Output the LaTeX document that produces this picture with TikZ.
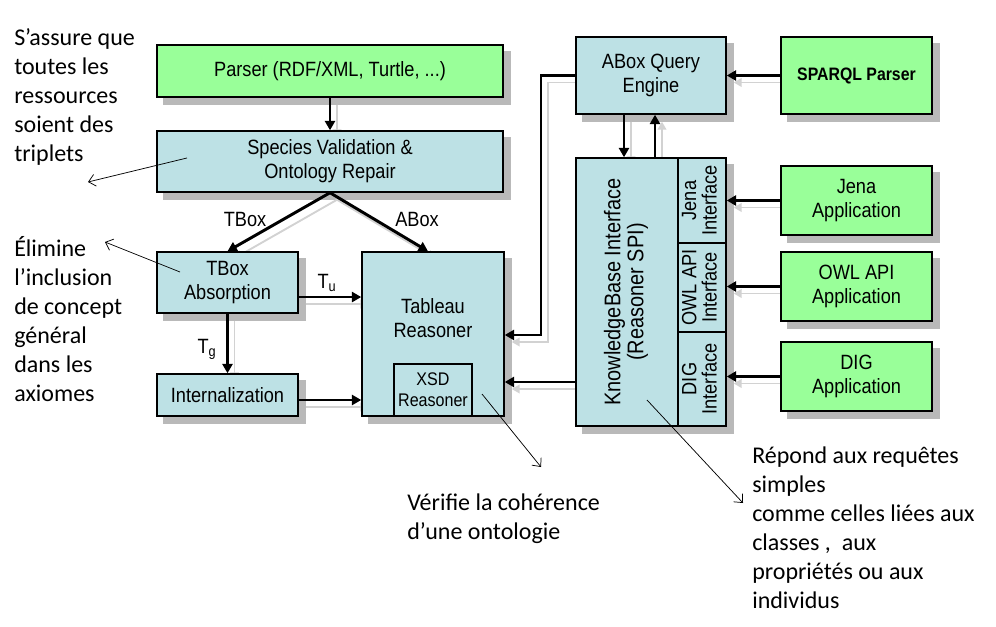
\documentclass[tikz,border=0pt]{standalone}
\usepackage{fontspec}
\usepackage{graphicx}
\setmainfont{Liberation Sans}
\newfontfamily\boxfont[FakeStretch=0.88]{Liberation Sans}
\newfontfamily\annofont{Carlito}
\usetikzlibrary{arrows.meta,calc}
\pgfdeclarelayer{paper}
\pgfdeclarelayer{boxsh}
\pgfdeclarelayer{arrsh}
\pgfsetlayers{paper,boxsh,arrsh,main}
\definecolor{boxgreen}{RGB}{153,255,153}
\definecolor{boxblue}{RGB}{189,225,229}
\tikzset{
  blk/.style={draw=black, line width=1.1pt, inner sep=0pt, align=center,
    font=\boxfont\fontsize{15.5}{18}\selectfont},
  gbox/.style={blk, fill=boxgreen},
  bbox/.style={blk, fill=boxblue},
  boxshadow/.style={fill=gray!55},
  conn/.style={line width=2.2pt, -{Triangle[length=7pt,width=7.5pt]}},
  connsh/.style={line width=1.4pt, draw=gray!35,
    -{Triangle[length=6pt,width=6.5pt]}},
  anno/.style={font=\annofont\fontsize{18}{21.75}\selectfont, align=left,
    inner sep=0pt, anchor=north west},
  annoarr/.style={line width=0.55pt, -{Straight Barb[length=5pt,width=9pt]}},
  lbl/.style={font=\boxfont\fontsize{15.5}{18}\selectfont, inner sep=0pt}
}
% box from its corners (pixel units): style, x1, y1, x2, y2, name
\newcommand\bx[6]{\node[#1, minimum width={(#4-#2)*0.75pt}, minimum height={(#5-#3)*0.75pt}] (#6) at ({(#2+#4)/2},{(#3+#5)/2})}
\newcommand\conn[1]{%
  \begin{pgfonlayer}{arrsh}
    \draw[connsh, transform canvas={shift={(5.25pt,-5.25pt)}}] #1;
  \end{pgfonlayer}
  \draw[conn] #1;}
\newcommand\vtext[1]{\rotatebox{90}{\begin{tabular}{@{}c@{}}#1\end{tabular}}}
\begin{document}
\begin{tikzpicture}[x=0.75pt, y=-0.75pt]
\begin{pgfonlayer}{paper}
  \fill[white] (0,0) rectangle (996,627);
\end{pgfonlayer}
\useasboundingbox (0,0) rectangle (996,627);

% left column
\bx{gbox}{157}{45}{503}{97}{parser} {Parser (RDF/XML, Turtle, ...)};
\bx{bbox}{157}{131}{503}{192}{species} {Species Validation \&\\Ontology Repair};
\bx{bbox}{157}{252}{298}{313}{tbox} {TBox\\Absorption};
\bx{bbox}{157}{374}{298}{416}{intern} {Internalization};
\bx{bbox, label={[lbl, align=center, yshift=11.6pt]center:Tableau\\Reasoner}}{362}{252}{504}{416}{tableau} {};
\bx{bbox, font=\boxfont\fontsize{13.7}{15.75}\selectfont}{394}{364}{472}{416}{xsd} {XSD\\Reasoner};

% right part
\bx{bbox}{576}{37}{726}{114}{qe} {ABox Query\\Engine};
\bx{gbox, font=\boxfont\bfseries\fontsize{13.5}{16}\selectfont}{781}{37}{932}{114}{sparql} {SPARQL Parser};
\bx{bbox, font=\boxfont\fontsize{17}{16.3}\selectfont}{576}{158}{678}{426}{kb}
  {\vtext{KnowledgeBase Interface\\(Reasoner SPI)}};
\bx{bbox, font=\boxfont\fontsize{15.5}{13.5}\selectfont}{678}{158}{726}{243}{jenaif}
  {\vtext{Jena\\Interface}};
\bx{bbox, font=\boxfont\fontsize{15.5}{13.5}\selectfont}{678}{243}{726}{332}{owlif}
  {\vtext{OWL API\\Interface}};
\bx{bbox, font=\boxfont\fontsize{15.5}{13.5}\selectfont}{678}{332}{726}{426}{digif}
  {\vtext{DIG\\Interface}};
\bx{gbox}{781}{166}{932}{235}{jenaapp} {Jena\\Application};
\bx{gbox}{781}{252}{932}{321}{owlapp} {OWL API\\Application};
\bx{gbox}{781}{342}{932}{411}{digapp} {DIG\\Application};

% box shadows
\begin{pgfonlayer}{boxsh}
\foreach \n in {parser,species,tbox,intern,tableau,qe,sparql,kb,jenaif,owlif,digif,jenaapp,owlapp,digapp}{
  \fill[boxshadow] ([shift={(5.25pt,-5.25pt)}]\n.south west) rectangle ([shift={(5.25pt,-5.25pt)}]\n.north east);
}
\end{pgfonlayer}

% connectors
\conn{(parser.south) -- (species.north)}
\conn{(species.south) -- (tbox.north)}
\conn{(species.south) -- ([xshift=-3.75pt]tableau.north)}
\coordinate (tuy) at ([yshift=-10.9pt]tbox.east);
\conn{(tuy) -- (tuy -| tableau.west)}
\conn{(tbox.south) -- (intern.north)}
\coordinate (iny) at ([yshift=-3.75pt]intern.east);
\conn{(iny) -- (iny -| tableau.west)}
\coordinate (qbend) at (541,335);
\conn{(qe.west) -| (qbend) -- (qbend -| tableau.east)}
\coordinate (kby) at ([yshift=-67.5pt]kb.west);
\conn{(kby) -- (kby -| tableau.east)}
\coordinate (qd) at ([xshift=-20.25pt]qe.south);
\conn{(qd) -- (qd |- kb.north)}
\coordinate (ku) at ([xshift=3pt]qe.south);
\conn{(ku |- kb.north) -- (ku)}
\conn{(sparql.west) -- (qe.east)}
\conn{(jenaapp.west) -- (jenaif.east)}
\conn{(owlapp.west) -- (owlapp.west -| owlif.east)}
\conn{(digapp.west) -- (digapp.west -| digif.east)}

% connector labels
\node[lbl] (lt) at (245,219) {TBox};
\node[lbl] (la) at (417,219) {ABox};
\node[lbl] (ltu) at (327,283) {T\textsubscript{u}};
\node[lbl] (ltg) at (207,349) {T\textsubscript{g}};

% annotations
\node[anno] (n1) at (14,28.5) {S’assure que\\toutes les\\ressources\\soient des\\triplets};
\node[anno] (n2) at (14,236) {Élimine\\l’inclusion\\de concept\\général\\dans les\\axiomes};
\node[anno] (n3) at (407,493.5) {Vérifie la cohérence\\d’une ontologie};
\node[anno] (n4) at (752,447) {Répond aux requêtes\\simples\\comme celles liées aux\\classes ,\ \ aux\\propriétés ou aux\\individus};

\coordinate (a1s) at (187,158); \coordinate (a1e) at (88,182);
\coordinate (a2s) at (180,272); \coordinate (a2e) at (105,242);
\coordinate (a3s) at (482,394); \coordinate (a3e) at (541,467);
\coordinate (a4s) at (647,400); \coordinate (a4e) at (743,503);
\draw[annoarr] (a1s) -- (a1e);
\draw[annoarr] (a2s) -- (a2e);
\draw[annoarr] (a3s) -- (a3e);
\draw[annoarr] (a4s) -- (a4e);
\end{tikzpicture}
\end{document}
